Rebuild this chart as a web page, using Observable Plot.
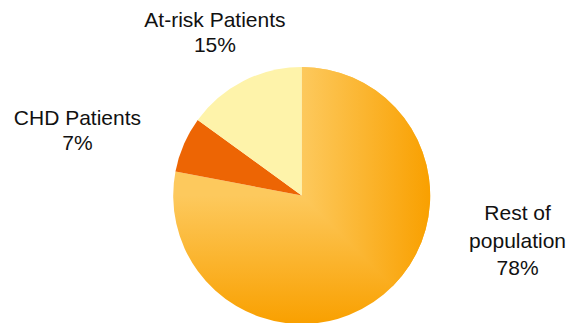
<!DOCTYPE html>
<html>
<head>
<meta charset="utf-8">
<script src="https://cdn.jsdelivr.net/npm/d3@7"></script>
<script src="https://cdn.jsdelivr.net/npm/@observablehq/plot@0.6"></script>
<style>
  html, body { margin: 0; padding: 0; background: #fff; }
  #chart svg { display: block; }
</style>
</head>
<body>
<div id="chart"></div>
<script>
// Population breakdown (percent), clockwise from 12 o'clock
const groups = ["Rest of population", "CHD Patients", "At-risk Patients"];
const shares = [78, 7, 15];
const labelLines = [["Rest of", "population"], ["CHD Patients"], ["At-risk Patients"]];

// Layout: label anchors in pie-radius units (pie centred at 0,0 with radius 1)
const labelAnchor = [[1.676, 0.333], [-1.749, -0.519], [-0.679, -1.281]];
const W = 571, H = 323;
const centerPx = [301.7, 195.5], radiusPx = 128.5;

const slices = groups.map((g, i) => ({
  group: g,
  share: shares[i],
  label: [...labelLines[i], `${shares[i]}%`].join("\n"),
  lx: labelAnchor[i][0],
  ly: labelAnchor[i][1]
}));

const arcs = d3.pie().sort(null).value(d => d.share)(slices);

const fills = {
  "CHD Patients": "#ed6504",
  "At-risk Patients": "#fef3aa"
};
const light = "#fdc95d", dark = "#f9a000";

function pieMark(index, scales) {
  const cx = scales.x(0), cy = scales.y(0), r = scales.x(1) - scales.x(0);
  const arc = d3.arc().innerRadius(0).outerRadius(r);
  const svg = d3.create("svg:g").attr("transform", `translate(${cx},${cy})`);
  const defs = svg.append("defs");
  // Rectangular gradient from the centre: horizontal to the right, vertical downward
  const gh = defs.append("linearGradient").attr("id", "rest-h")
    .attr("gradientUnits", "userSpaceOnUse").attr("x1", 0).attr("y1", 0).attr("x2", r).attr("y2", 0);
  gh.append("stop").attr("offset", 0).attr("stop-color", light);
  gh.append("stop").attr("offset", 1).attr("stop-color", dark);
  const gv = defs.append("linearGradient").attr("id", "rest-v")
    .attr("gradientUnits", "userSpaceOnUse").attr("x1", 0).attr("y1", 0).attr("x2", 0).attr("y2", r);
  gv.append("stop").attr("offset", 0).attr("stop-color", light);
  gv.append("stop").attr("offset", 1).attr("stop-color", dark);
  defs.append("clipPath").attr("id", "rest-clip")
    .append("polygon").attr("points", `${-2 * r},${-2 * r} ${2 * r},${-2 * r} ${2 * r},${2 * r}`);

  for (const a of arcs) {
    const d = arc(a);
    if (a.data.group === "Rest of population") {
      svg.append("path").attr("d", d).attr("fill", "url(#rest-v)");
      svg.append("path").attr("d", d).attr("fill", "url(#rest-h)").attr("clip-path", "url(#rest-clip)");
    } else {
      svg.append("path").attr("d", d).attr("fill", fills[a.data.group]);
    }
  }
  return svg.node();
}

const xDomain = [-centerPx[0] / radiusPx, (W - centerPx[0]) / radiusPx];
const yDomain = [-centerPx[1] / radiusPx, (H - centerPx[1]) / radiusPx];

const textStyle = {
  x: "lx",
  y: "ly",
  text: "label",
  textAnchor: "middle",
  lineAnchor: "middle",
  fontSize: 21,
  fill: "#111"
};

const chart = Plot.plot({
  width: W,
  height: H,
  margin: 0,
  x: {domain: xDomain, range: [0, W], axis: null},
  y: {domain: yDomain, range: [0, H], axis: null},
  style: {fontFamily: "'Liberation Sans', Arial, sans-serif", background: "#fff", overflow: "visible"},
  marks: [
    pieMark,
    Plot.text(slices.filter(d => d.group !== "Rest of population"), {...textStyle, lineHeight: 1.22}),
    Plot.text(slices.filter(d => d.group === "Rest of population"), {...textStyle, lineHeight: 1.31})
  ]
});

document.getElementById("chart").append(chart);
</script>
</body>
</html>
